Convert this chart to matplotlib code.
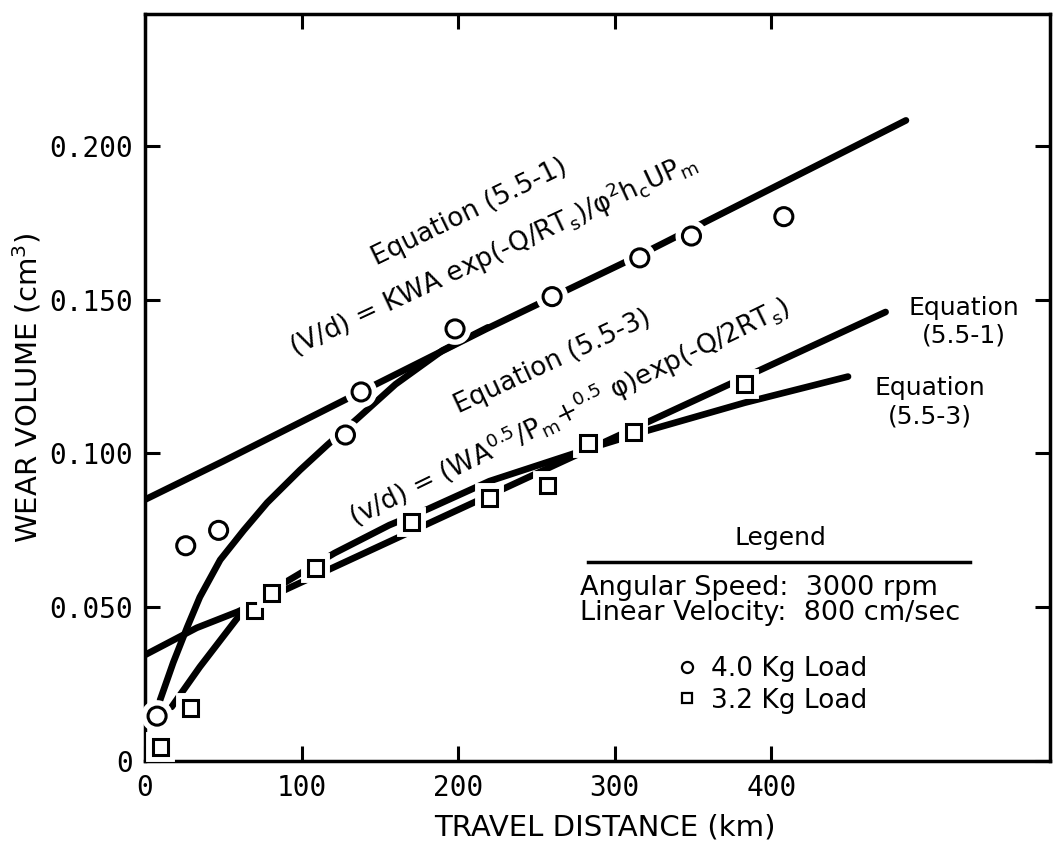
import numpy as np
import matplotlib
matplotlib.use("Agg")
import matplotlib.pyplot as plt
import matplotlib.patheffects as pe
from matplotlib.lines import Line2D

plt.rcParams['font.family'] = ['DejaVu Sans']
plt.rcParams['mathtext.fontset'] = 'dejavusans'
plt.rcParams['mathtext.default'] = 'regular'

## measured points, 4.0 Kg load (circles)
circ_x = [7.7, 26, 47, 128, 138, 198, 260, 316, 349, 408]
circ_y = [0.0146, 0.070, 0.075, 0.106, 0.120, 0.1405, 0.151, 0.1636, 0.1707, 0.177]

## measured points, 3.2 Kg load (squares)
sq_x = [10, 29, 70, 81, 109, 170, 220, 257, 283, 312, 383]
sq_y = [0.0046, 0.0172, 0.049, 0.0546, 0.0628, 0.0777, 0.0855, 0.0895, 0.1034, 0.107, 0.1226]

## Equation (5.5-1), 4.0 Kg
eq1_hi_x = [0, 50, 124, 218, 316, 486]
eq1_hi_y = [0.085, 0.0975, 0.1165, 0.1405, 0.1645, 0.2083]

## Equation (5.5-3), 4.0 Kg
eq3_hi_x = [9.6, 18, 27, 35, 48, 63, 78, 99, 116.5, 136, 160, 190, 219]
eq3_hi_y = [0.0198, 0.032, 0.0436, 0.0533, 0.0654, 0.075, 0.084, 0.0946, 0.1028,
            0.1115, 0.1225, 0.1335, 0.141]

## Equation (5.5-1), 3.2 Kg
eq1_lo_x = [0, 33, 59, 473]
eq1_lo_y = [0.0345, 0.0433, 0.0485, 0.146]

## Equation (5.5-3), 3.2 Kg
eq3_lo_x = [17, 35, 59, 81, 109, 121, 156, 181, 220, 283, 322, 383, 449]
eq3_lo_y = [0.0176, 0.0306, 0.0465, 0.0555, 0.064, 0.0676, 0.0767, 0.082, 0.091,
            0.1015, 0.1076, 0.1165, 0.125]

xticks = [0, 100, 200, 300, 400]
xlabels = ['0', '100', '200', '300', '400']
yticks = [0, 0.05, 0.10, 0.15, 0.20]
ylabels = ['0', '0.050', '0.100', '0.150', '0.200']

fig = plt.figure(figsize=(10.54, 8.47), dpi=100)
ax = fig.add_axes([0.1376, 0.1015, 0.8586, 0.882])

lw = 4.8
for xs, ys in [(eq1_hi_x, eq1_hi_y), (eq3_hi_x, eq3_hi_y),
               (eq1_lo_x, eq1_lo_y), (eq3_lo_x, eq3_lo_y)]:
    ax.plot(xs, ys, color='black', linewidth=lw, solid_capstyle='round', zorder=2)

halo = [pe.withStroke(linewidth=10, foreground='white')]
ax.plot(circ_x, circ_y, linestyle='none', marker='o', markersize=13,
        markerfacecolor='white', markeredgecolor='black', markeredgewidth=2.2,
        path_effects=halo, zorder=3, clip_on=False)
ax.plot(sq_x, sq_y, linestyle='none', marker='s', markersize=11,
        markerfacecolor='white', markeredgecolor='black', markeredgewidth=2.2,
        path_effects=halo, zorder=3, clip_on=False)

ax.set_xlim(0, 578)
ax.set_ylim(0, 0.2429)

for s in ax.spines.values():
    s.set_linewidth(2.5)
ax.tick_params(top=True, right=True, direction='in', length=11, width=2.2, pad=9)
ax.set_xticks(xticks)
ax.set_xticklabels(xlabels, fontfamily='DejaVu Sans Mono', fontsize=20)
ax.set_yticks(yticks)
ax.set_yticklabels(ylabels, fontfamily='DejaVu Sans Mono', fontsize=20)

ax.set_xlabel('TRAVEL DISTANCE (km)', fontsize=21)
ax.set_ylabel('WEAR VOLUME (cm$^{3}$)', fontsize=21)
ax.xaxis.set_label_coords(0.508, -0.07)
ax.yaxis.set_label_coords(-0.112, 0.5)

## curve labels
fs = 18
tkw = dict(ha='center', va='center', rotation_mode='anchor', fontsize=19)
ax.text(207, 0.1785, 'Equation (5.5-1)', rotation=26, **tkw)
ax.text(222, 0.1649,
        r'(V/d) = KWA exp(-Q/RT$_{s}$)/φ$^{2}$h$_{c}$UP$_{m}$',
        rotation=25, **tkw)
ax.text(260, 0.1298, 'Equation (5.5-3)', rotation=25, **tkw)
ax.text(271, 0.1135,
        r'(v/d) = (WA$^{0.5}$/P$_{m}$+$^{0.5}$ φ)exp(-Q/2RT$_{s}$)',
        rotation=26, **tkw)
ax.text(523, 0.1428, 'Equation\n(5.5-1)', ha='center', va='center', fontsize=fs,
        linespacing=1.2)
ax.text(501, 0.1167, 'Equation\n(5.5-3)', ha='center', va='center', fontsize=fs,
        linespacing=1.2)

## legend block
ax.text(406, 0.0725, 'Legend', ha='center', va='center', fontsize=fs)
ax.axhline(0.0647, xmin=283 / 578, xmax=527 / 578, color='black', linewidth=2.5)
ax.text(278, 0.0563, 'Angular Speed:  3000 rpm', ha='left', va='center', fontsize=19.5)
ax.text(278, 0.0481, 'Linear Velocity:  800 cm/sec', ha='left', va='center', fontsize=19.5)

handles = [Line2D([], [], linestyle='none', marker='o', markersize=8,
                  markerfacecolor='white', markeredgecolor='black', markeredgewidth=1.6),
           Line2D([], [], linestyle='none', marker='s', markersize=7,
                  markerfacecolor='white', markeredgecolor='black', markeredgewidth=1.6)]
ax.legend(handles, ['4.0 Kg Load', '3.2 Kg Load'], loc='upper left',
          bbox_to_anchor=(0.587, 0.14), frameon=False, fontsize=19,
          handlelength=0.8, handletextpad=0.5, labelspacing=0.2,
          borderpad=0, borderaxespad=0)

fig.savefig('out.png', dpi=100)
